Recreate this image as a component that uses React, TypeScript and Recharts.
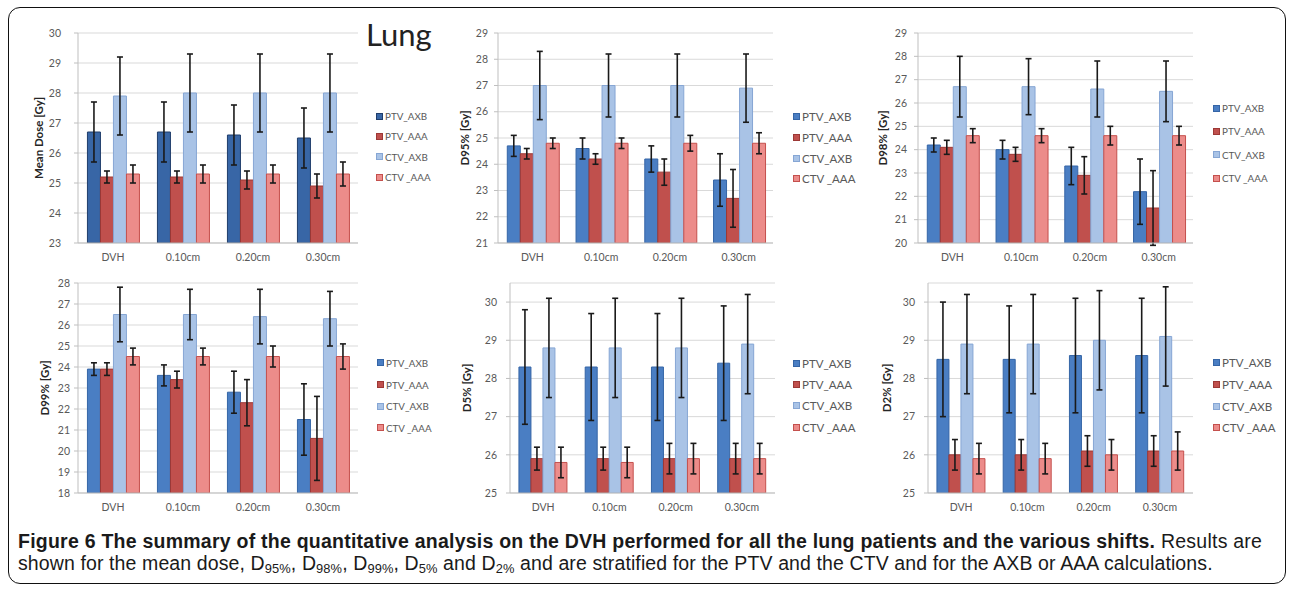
import React from 'react';
import { BarChart, Bar, XAxis, YAxis, CartesianGrid, ErrorBar, Legend } from 'recharts';

// ---------- data ----------
const categories = ['DVH', '0.10cm', '0.20cm', '0.30cm'];
const seriesNames = ['PTV_AXB', 'PTV_AAA', 'CTV_AXB', 'CTV _AAA'];

// Mean dose [Gy]
const MEAN_PTV_AXB = [26.7, 26.7, 26.6, 26.5];
const MEAN_PTV_AAA = [25.2, 25.2, 25.1, 24.9];
const MEAN_CTV_AXB = [27.9, 28.0, 28.0, 28.0];
const MEAN_CTV_AAA = [25.3, 25.3, 25.3, 25.3];
const MEAN_PTV_AXB_ERR = [1.0, 1.0, 1.0, 1.0];
const MEAN_PTV_AAA_ERR = [0.2, 0.2, 0.3, 0.4];
const MEAN_CTV_AXB_ERR = [1.3, 1.3, 1.3, 1.3];
const MEAN_CTV_AAA_ERR = [0.3, 0.3, 0.3, 0.4];
const MEAN_TICKS = [23, 24, 25, 26, 27, 28, 29, 30];

// D95% [Gy]
const D95_PTV_AXB = [24.7, 24.6, 24.2, 23.4];
const D95_PTV_AAA = [24.4, 24.2, 23.7, 22.7];
const D95_CTV_AXB = [27.0, 27.0, 27.0, 26.9];
const D95_CTV_AAA = [24.8, 24.8, 24.8, 24.8];
const D95_PTV_AXB_ERR = [0.4, 0.4, 0.5, 1.0];
const D95_PTV_AAA_ERR = [0.2, 0.2, 0.5, 1.1];
const D95_CTV_AXB_ERR = [1.3, 1.2, 1.2, 1.3];
const D95_CTV_AAA_ERR = [0.2, 0.2, 0.3, 0.4];
const D95_TICKS = [21, 22, 23, 24, 25, 26, 27, 28, 29];

// D98% [Gy]
const D98_PTV_AXB = [24.2, 24.0, 23.3, 22.2];
const D98_PTV_AAA = [24.1, 23.8, 22.9, 21.5];
const D98_CTV_AXB = [26.7, 26.7, 26.6, 26.5];
const D98_CTV_AAA = [24.6, 24.6, 24.6, 24.6];
const D98_PTV_AXB_ERR = [0.3, 0.4, 0.8, 1.4];
const D98_PTV_AAA_ERR = [0.3, 0.3, 0.8, 1.6];
const D98_CTV_AXB_ERR = [1.3, 1.2, 1.2, 1.3];
const D98_CTV_AAA_ERR = [0.3, 0.3, 0.4, 0.4];
const D98_TICKS = [20, 21, 22, 23, 24, 25, 26, 27, 28, 29];

// D99% [Gy]
const D99_PTV_AXB = [23.9, 23.6, 22.8, 21.5];
const D99_PTV_AAA = [23.9, 23.4, 22.3, 20.6];
const D99_CTV_AXB = [26.5, 26.5, 26.4, 26.3];
const D99_CTV_AAA = [24.5, 24.5, 24.5, 24.5];
const D99_PTV_AXB_ERR = [0.3, 0.5, 1.0, 1.7];
const D99_PTV_AAA_ERR = [0.3, 0.4, 1.1, 2.0];
const D99_CTV_AXB_ERR = [1.3, 1.2, 1.3, 1.3];
const D99_CTV_AAA_ERR = [0.4, 0.4, 0.5, 0.6];
const D99_TICKS = [18, 19, 20, 21, 22, 23, 24, 25, 26, 27, 28];

// D5% [Gy]
const D5_PTV_AXB = [28.3, 28.3, 28.3, 28.4];
const D5_PTV_AAA = [25.9, 25.9, 25.9, 25.9];
const D5_CTV_AXB = [28.8, 28.8, 28.8, 28.9];
const D5_CTV_AAA = [25.8, 25.8, 25.9, 25.9];
const D5_PTV_AXB_ERR = [1.5, 1.4, 1.4, 1.5];
const D5_PTV_AAA_ERR = [0.3, 0.3, 0.4, 0.4];
const D5_CTV_AXB_ERR = [1.3, 1.3, 1.3, 1.3];
const D5_CTV_AAA_ERR = [0.4, 0.4, 0.4, 0.4];
const D5_TICKS = [25, 26, 27, 28, 29, 30];

// D2% [Gy]
const D2_PTV_AXB = [28.5, 28.5, 28.6, 28.6];
const D2_PTV_AAA = [26.0, 26.0, 26.1, 26.1];
const D2_CTV_AXB = [28.9, 28.9, 29.0, 29.1];
const D2_CTV_AAA = [25.9, 25.9, 26.0, 26.1];
const D2_PTV_AXB_ERR = [1.5, 1.4, 1.5, 1.5];
const D2_PTV_AAA_ERR = [0.4, 0.4, 0.4, 0.4];
const D2_CTV_AXB_ERR = [1.3, 1.3, 1.3, 1.3];
const D2_CTV_AAA_ERR = [0.4, 0.4, 0.4, 0.5];
const D2_TICKS = [25, 26, 27, 28, 29, 30];

// ---------- styles ----------
const FONT = 'Lato, "Open Sans", sans-serif';
const CAPTION_FONT = '"Liberation Sans", Arial, sans-serif';
const BASE_FILL = ['#4a7ec3', '#c0504d', '#a9c3e6', '#ec8c8a'];
const BASE_STROKE = ['#3565a6', '#9c3835', '#86a6d4', '#c4504d'];
const DARK_FILL = ['#3866a6', '#c0504d', '#a9c3e6', '#ec8c8a'];
const DARK_STROKE = ['#1f3d6b', '#9c3835', '#86a6d4', '#c4504d'];

type PanelCfg = {
  yLabel: string;
  values: number[][];
  errors: number[][];
  domain: [number, number];
  ticks: number[];
  px: number; py: number; pw: number; ph: number;
  labelX: number;
  tickGap: number;
  legendX: number; legendY: number; legendRow: number; legendFont: number;
  dark?: boolean;
};

const PANELS: PanelCfg[] = [
  {
    yLabel: 'Mean Dose [Gy]',
    values: [MEAN_PTV_AXB, MEAN_PTV_AAA, MEAN_CTV_AXB, MEAN_CTV_AAA],
    errors: [MEAN_PTV_AXB_ERR, MEAN_PTV_AAA_ERR, MEAN_CTV_AXB_ERR, MEAN_CTV_AAA_ERR],
    domain: [23, 30], ticks: MEAN_TICKS,
    px: 78, py: 33, pw: 280, ph: 210, labelX: 39, tickGap: 17,
    legendX: 376, legendY: 106, legendRow: 20.3, legendFont: 9.8, dark: true,
  },
  {
    yLabel: 'D95% [Gy]',
    values: [D95_PTV_AXB, D95_PTV_AAA, D95_CTV_AXB, D95_CTV_AAA],
    errors: [D95_PTV_AXB_ERR, D95_PTV_AAA_ERR, D95_CTV_AXB_ERR, D95_CTV_AAA_ERR],
    domain: [21, 29], ticks: D95_TICKS,
    px: 498, py: 33, pw: 275, ph: 210, labelX: 465, tickGap: 10,
    legendX: 793, legendY: 106.5, legendRow: 20.7, legendFont: 11.5,
  },
  {
    yLabel: 'D98% [Gy]',
    values: [D98_PTV_AXB, D98_PTV_AAA, D98_CTV_AXB, D98_CTV_AAA],
    errors: [D98_PTV_AXB_ERR, D98_PTV_AAA_ERR, D98_CTV_AXB_ERR, D98_CTV_AAA_ERR],
    domain: [20, 29], ticks: D98_TICKS,
    px: 918, py: 33, pw: 275, ph: 210, labelX: 883, tickGap: 11,
    legendX: 1213, legendY: 96.5, legendRow: 23.3, legendFont: 9.8,
  },
  {
    yLabel: 'D99% [Gy]',
    values: [D99_PTV_AXB, D99_PTV_AAA, D99_CTV_AXB, D99_CTV_AAA],
    errors: [D99_PTV_AXB_ERR, D99_PTV_AAA_ERR, D99_CTV_AXB_ERR, D99_CTV_AAA_ERR],
    domain: [18, 28], ticks: D99_TICKS,
    px: 78, py: 283, pw: 280, ph: 210, labelX: 45, tickGap: 8,
    legendX: 377, legendY: 352, legendRow: 21.7, legendFont: 9.8,
  },
  {
    yLabel: 'D5% [Gy]',
    values: [D5_PTV_AXB, D5_PTV_AAA, D5_CTV_AXB, D5_CTV_AAA],
    errors: [D5_PTV_AXB_ERR, D5_PTV_AAA_ERR, D5_CTV_AXB_ERR, D5_CTV_AAA_ERR],
    domain: [25, 30.5], ticks: D5_TICKS,
    px: 510, py: 283, pw: 265, ph: 210, labelX: 467, tickGap: 13,
    legendX: 793, legendY: 352.5, legendRow: 21.3, legendFont: 11.5,
  },
  {
    yLabel: 'D2% [Gy]',
    values: [D2_PTV_AXB, D2_PTV_AAA, D2_CTV_AXB, D2_CTV_AAA],
    errors: [D2_PTV_AXB_ERR, D2_PTV_AAA_ERR, D2_CTV_AXB_ERR, D2_CTV_AAA_ERR],
    domain: [25, 30.5], ticks: D2_TICKS,
    px: 928, py: 283, pw: 265, ph: 210, labelX: 887, tickGap: 13,
    legendX: 1213, legendY: 352, legendRow: 21.7, legendFont: 11.5,
  },
];

const YW = 50;
const MT = 10;
const XH = 30;
const RIGHT = 130;

function Panel({ cfg }: { cfg: PanelCfg }) {
  const data = categories.map((c, i) => {
    const row: Record<string, number | string> = { cat: c };
    cfg.values.forEach((arr, s) => {
      row['s' + s] = arr[i];
      row['e' + s] = cfg.errors[s][i];
    });
    return row;
  });
  const fills = cfg.dark ? DARK_FILL : BASE_FILL;
  const strokes = cfg.dark ? DARK_STROKE : BASE_STROKE;
  const chartLeft = cfg.px - YW;
  const chartTop = cfg.py - MT;
  const W = YW + cfg.pw + RIGHT;
  const H = MT + cfg.ph + XH;

  const renderLegend = () => (
    <div style={{ fontFamily: FONT }}>
      {seriesNames.map((n, i) => (
        <div
          key={n}
          style={{
            height: cfg.legendRow,
            display: 'flex',
            alignItems: 'center',
            fontSize: cfg.legendFont,
            color: '#595959',
            whiteSpace: 'nowrap',
          }}
        >
          <span
            style={{
              display: 'inline-block',
              width: 5,
              height: 5,
              background: fills[i],
              border: `1px solid ${strokes[i]}`,
              marginRight: 2,
            }}
          />
          {n}
        </div>
      ))}
    </div>
  );

  return (
    <div style={{ position: 'absolute', left: chartLeft, top: chartTop }}>
      <BarChart
        width={W}
        height={H}
        data={data}
        margin={{ top: MT, right: RIGHT, bottom: 0, left: 0 }}
        barCategoryGap="13.5%"
        barGap={0}
      >
        <CartesianGrid vertical={false} stroke="#d9d9d9" />
        <XAxis
          dataKey="cat"
          height={XH}
          axisLine={{ stroke: '#bfbfbf' }}
          tickLine={false}
          tickSize={0}
          tickMargin={11}
          tick={{ fill: '#595959', fontSize: 10.5, fontFamily: FONT }}
        />
        <YAxis
          width={YW}
          domain={cfg.domain}
          ticks={cfg.ticks}
          interval={0}
          allowDataOverflow
          axisLine={{ stroke: '#bfbfbf' }}
          tickLine={{ stroke: '#bfbfbf' }}
          tickSize={4}
          tickMargin={cfg.tickGap - 4}
          tick={{ fill: '#595959', fontSize: 10.5, fontFamily: FONT }}
          label={{
            value: cfg.yLabel,
            angle: -90,
            position: 'insideLeft',
            offset: cfg.labelX - chartLeft,
            style: { textAnchor: 'middle', fontWeight: 700, fontSize: 11.5, fill: '#262626', fontFamily: FONT },
          }}
        />
        <Legend
          layout="vertical"
          align="center"
          verticalAlign="middle"
          content={renderLegend}
          wrapperStyle={{ left: cfg.legendX - chartLeft, top: cfg.legendY - chartTop, width: 'auto' }}
        />
        {seriesNames.map((n, s) => (
          <Bar
            key={n}
            dataKey={'s' + s}
            name={n}
            fill={fills[s]}
            stroke={strokes[s]}
            strokeWidth={1}
            isAnimationActive={false}
          >
            <ErrorBar dataKey={'e' + s} width={3} stroke="#1a1a1a" strokeWidth={1.6} direction="y" />
          </Bar>
        ))}
      </BarChart>
    </div>
  );
}

const sub = (t: string) => (
  <span style={{ fontSize: '0.66em', position: 'relative', top: '0.25em' }}>{t}</span>
);

export default function App() {
  return (
    <div style={{ position: 'absolute', left: 0, top: 0, width: 1292, height: 589, background: '#fff', overflow: 'hidden' }}>
      <div
        style={{
          position: 'absolute',
          left: 8,
          top: 7,
          width: 1276,
          height: 575,
          border: '1.5px solid #111',
          borderRadius: 12,
        }}
      />
      {PANELS.map((p, i) => (
        <Panel key={i} cfg={p} />
      ))}
      <div
        style={{
          position: 'absolute',
          left: 366,
          top: 14,
          fontFamily: FONT,
          fontSize: 31,
          color: '#222',
          lineHeight: '40px',
        }}
      >
        Lung
      </div>
      <div
        style={{
          position: 'absolute',
          left: 18,
          top: 530,
          width: 1265,
          fontFamily: CAPTION_FONT,
          fontSize: 19.5,
          lineHeight: '22px',
          color: '#1a1a1a',
          whiteSpace: 'nowrap',
        }}
      >
        <div style={{ letterSpacing: 0.24 }}>
          <b>
            Figure 6 The summary of the quantitative analysis on the DVH performed for all the lung patients and the
            various shifts.
          </b>{' '}
          Results are
        </div>
        <div style={{ letterSpacing: 0.11 }}>
          shown for the mean dose, D{sub('95%')}, D{sub('98%')}, D{sub('99%')}, D{sub('5%')} and D{sub('2%')} and are
          stratified for the PTV and the CTV and for the AXB or AAA calculations.
        </div>
      </div>
    </div>
  );
}
